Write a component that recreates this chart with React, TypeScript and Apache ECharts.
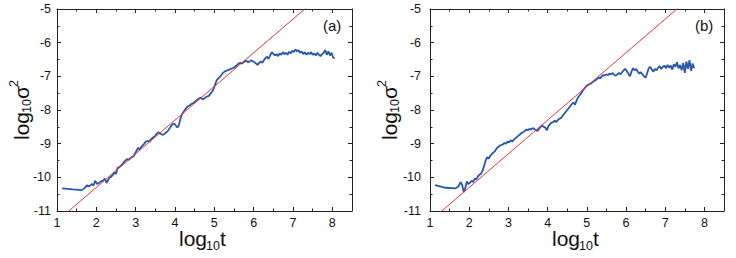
import React, { useEffect, useRef } from "react";
import * as echarts from "echarts";

// ---- data ----
const X_TICKS = [1, 2, 3, 4, 5, 6, 7, 8];
const Y_TICKS = [-11, -10, -9, -8, -7, -6, -5];

const A_X = [1.13,1.40,1.63,1.70,1.76,1.82,1.88,1.93,1.97,2.02,2.07,2.12,2.17,2.22,2.26,2.30,2.34,2.38,2.42,2.46,2.50,2.54,2.58,2.62,2.66,2.70,2.74,2.78,2.82,2.86,2.90,2.94,2.98,3.02,3.06,3.10,3.14,3.18,3.22,3.26,3.30,3.34,3.38,3.42,3.46,3.50,3.54,3.58,3.62,3.66,3.70,3.74,3.78,3.82,3.86,3.90,3.94,3.98,4.02,4.06,4.10,4.14,4.18,4.22,4.26,4.30,4.34,4.38,4.42,4.46,4.50,4.54,4.58,4.62,4.66,4.70,4.74,4.78,4.82,4.86,4.90,4.94,4.98,5.02,5.06,5.10,5.14,5.18,5.22,5.26,5.30,5.34,5.38,5.42,5.46,5.50,5.54,5.58,5.62,5.66,5.70,5.74,5.78,5.82,5.86,5.90,5.94,5.98,6.02,6.06,6.10,6.14,6.18,6.22,6.26,6.30,6.34,6.38,6.42,6.46,6.50,6.54,6.58,6.62,6.66,6.70,6.74,6.78,6.82,6.86,6.90,6.94,6.98,7.02,7.06,7.10,7.14,7.18,7.22,7.26,7.30,7.34,7.38,7.42,7.46,7.50,7.54,7.58,7.62,7.66,7.70,7.74,7.78,7.82,7.86,7.90,7.94,7.98,8.02,8.06];
const A_Y = [-10.33,-10.36,-10.38,-10.32,-10.24,-10.27,-10.20,-10.24,-10.10,-10.20,-10.16,-10.12,-10.10,-10.04,-10.17,-10.08,-10.00,-9.98,-9.93,-9.85,-9.90,-9.72,-9.70,-9.66,-9.62,-9.55,-9.50,-9.46,-9.48,-9.44,-9.40,-9.38,-9.30,-9.22,-9.12,-9.18,-9.10,-9.05,-9.00,-8.94,-8.92,-8.94,-8.88,-8.84,-8.80,-8.76,-8.70,-8.66,-8.70,-8.72,-8.74,-8.70,-8.66,-8.62,-8.55,-8.48,-8.42,-8.40,-8.46,-8.52,-8.45,-8.25,-8.12,-8.05,-7.98,-7.92,-7.88,-7.86,-7.82,-7.80,-7.76,-7.72,-7.68,-7.65,-7.64,-7.68,-7.66,-7.62,-7.60,-7.58,-7.52,-7.46,-7.38,-7.24,-7.12,-7.06,-7.02,-6.96,-6.90,-6.86,-6.84,-6.82,-6.80,-6.78,-6.76,-6.74,-6.70,-6.66,-6.62,-6.60,-6.62,-6.58,-6.55,-6.54,-6.58,-6.56,-6.52,-6.55,-6.58,-6.62,-6.66,-6.60,-6.56,-6.60,-6.52,-6.46,-6.42,-6.48,-6.38,-6.28,-6.33,-6.38,-6.34,-6.40,-6.32,-6.36,-6.28,-6.34,-6.30,-6.36,-6.27,-6.32,-6.24,-6.28,-6.20,-6.26,-6.22,-6.30,-6.26,-6.34,-6.28,-6.36,-6.30,-6.34,-6.28,-6.36,-6.32,-6.38,-6.30,-6.36,-6.40,-6.34,-6.30,-6.22,-6.36,-6.26,-6.38,-6.30,-6.44,-6.46];

const B_X = [1.13,1.40,1.64,1.72,1.78,1.82,1.86,1.90,1.94,1.98,2.02,2.06,2.10,2.14,2.18,2.22,2.26,2.30,2.34,2.38,2.42,2.46,2.50,2.54,2.58,2.62,2.66,2.70,2.74,2.78,2.82,2.86,2.90,2.94,2.98,3.02,3.06,3.10,3.14,3.18,3.22,3.26,3.30,3.34,3.38,3.42,3.46,3.50,3.54,3.58,3.62,3.66,3.70,3.74,3.78,3.82,3.86,3.90,3.94,3.98,4.02,4.06,4.10,4.14,4.18,4.22,4.26,4.30,4.34,4.38,4.42,4.46,4.50,4.54,4.58,4.62,4.66,4.70,4.74,4.78,4.82,4.86,4.90,4.94,4.98,5.02,5.06,5.10,5.14,5.18,5.22,5.26,5.30,5.34,5.38,5.42,5.46,5.50,5.54,5.58,5.62,5.66,5.70,5.74,5.78,5.82,5.86,5.90,5.94,5.98,6.02,6.06,6.10,6.14,6.18,6.22,6.26,6.30,6.34,6.38,6.42,6.46,6.50,6.54,6.58,6.62,6.66,6.70,6.74,6.78,6.82,6.86,6.90,6.94,6.98,7.02,7.06,7.10,7.14,7.18,7.22,7.26,7.30,7.34,7.38,7.42,7.46,7.50,7.54,7.58,7.62,7.66,7.70,7.74];
const B_Y = [-10.23,-10.31,-10.33,-10.28,-10.14,-10.22,-10.44,-10.32,-10.12,-10.20,-10.16,-10.10,-10.14,-10.04,-10.06,-9.98,-9.92,-9.90,-9.80,-9.66,-9.50,-9.40,-9.44,-9.36,-9.30,-9.26,-9.22,-9.14,-9.10,-9.06,-9.04,-9.02,-8.98,-9.00,-8.94,-8.96,-8.90,-8.94,-8.88,-8.84,-8.80,-8.76,-8.72,-8.68,-8.66,-8.62,-8.58,-8.60,-8.56,-8.58,-8.54,-8.56,-8.60,-8.62,-8.56,-8.50,-8.46,-8.50,-8.52,-8.60,-8.48,-8.42,-8.38,-8.36,-8.32,-8.36,-8.30,-8.26,-8.24,-8.18,-8.12,-8.06,-8.00,-7.94,-7.88,-7.82,-7.78,-7.84,-7.72,-7.62,-7.56,-7.50,-7.42,-7.36,-7.30,-7.26,-7.24,-7.22,-7.18,-7.14,-7.12,-7.08,-7.04,-7.06,-7.00,-6.96,-6.98,-6.94,-6.96,-6.92,-6.94,-6.90,-6.96,-6.98,-6.94,-6.90,-6.94,-6.88,-6.82,-6.78,-6.84,-6.92,-7.00,-6.86,-6.76,-6.82,-6.78,-6.86,-6.92,-6.88,-6.94,-7.00,-7.04,-6.90,-6.76,-6.72,-6.80,-6.86,-6.78,-6.82,-6.74,-6.70,-6.78,-6.72,-6.68,-6.76,-6.66,-6.74,-6.68,-6.80,-6.64,-6.72,-6.58,-6.76,-6.66,-6.82,-6.60,-6.90,-6.56,-6.78,-6.52,-6.84,-6.62,-6.76];

const FIT_X = [1.0, 7.5];
const FIT_Y = [-11.3, -4.8];

const PANEL_TAGS = ["(a)", "(b)"];

const FONT = "'Liberation Sans', Arial, Helvetica, sans-serif";
const AXIS_COLOR = "#222";
const BLUE = "#2a57a8";
const RED = "#e5343a";

const GRIDS = [
  { left: 57, top: 9, width: 295, height: 202 },
  { left: 430, top: 9, width: 294, height: 202 },
];

function zip(xs: number[], ys: number[]) {
  return xs.map((x, i) => [x, ys[i]]);
}

function xAxis(gridIndex: number, position: "bottom" | "top") {
  const showLabel = position === "bottom";
  return {
    type: "value",
    gridIndex,
    position,
    min: X_TICKS[0],
    max: 8.5,
    interval: 1,
    axisLine: { show: true, onZero: false, lineStyle: { color: AXIS_COLOR, width: 1 } },
    axisTick: { show: true, inside: true, length: 4, lineStyle: { color: AXIS_COLOR } },
    minorTick: { show: true, splitNumber: 2, length: 2.5, lineStyle: { color: AXIS_COLOR } },
    splitLine: { show: false },
    axisLabel: {
      show: showLabel,
      margin: 5,
      fontSize: 12.5,
      color: "#111",
      fontFamily: FONT,
      formatter: (v: number) => (X_TICKS.indexOf(v) >= 0 ? String(v) : ""),
    },
  };
}

function yAxis(gridIndex: number, position: "left" | "right", margin: number) {
  const showLabel = position === "left";
  return {
    type: "value",
    gridIndex,
    position,
    min: Y_TICKS[0],
    max: Y_TICKS[Y_TICKS.length - 1],
    interval: 1,
    axisLine: { show: true, onZero: false, lineStyle: { color: AXIS_COLOR, width: 1 } },
    axisTick: { show: true, inside: true, length: 4, lineStyle: { color: AXIS_COLOR } },
    minorTick: { show: true, splitNumber: 2, length: 2.5, lineStyle: { color: AXIS_COLOR } },
    splitLine: { show: false },
    axisLabel: {
      show: showLabel,
      margin,
      fontSize: 12.5,
      color: "#111",
      fontFamily: FONT,
    },
  };
}

function txt(x: number, y: number, text: string, size: number, extra: any = {}) {
  return {
    type: "text",
    x,
    y,
    style: {
      text,
      fontSize: size,
      fontFamily: FONT,
      fill: "#111",
      align: "left",
      verticalAlign: "middle",
      ...extra,
    },
  };
}

function xTitle(x0: number) {
  // log_10 t
  return {
    type: "group",
    x: x0,
    y: 238,
    children: [
      txt(0, 0, "log", 21),
      txt(27, 8, "10", 12.5),
      txt(41, 0, "t", 21),
    ],
  };
}

function yTitle(x0: number) {
  // log_10 sigma^2 rotated
  return {
    type: "group",
    x: x0,
    y: 140,
    rotation: Math.PI / 2,
    children: [
      txt(0, 0, "log", 21),
      txt(27, 6, "10", 12.5),
      txt(41, 0, "σ", 21),
      txt(53, -7, "2", 12.5),
    ],
  };
}

export default function App() {
  const ref = useRef<HTMLDivElement>(null);
  useEffect(() => {
    if (!ref.current) return;
    const chart = echarts.init(ref.current, undefined, { renderer: "svg" });
    const option: any = {
      animation: false,
      backgroundColor: "#fff",
      grid: GRIDS.map((g) => ({ ...g, containLabel: false })),
      xAxis: [xAxis(0, "bottom"), xAxis(0, "top"), xAxis(1, "bottom"), xAxis(1, "top")],
      yAxis: [yAxis(0, "left", 6), yAxis(0, "right", 6), yAxis(1, "left", 9), yAxis(1, "right", 6)],
      series: [
        {
          type: "line",
          xAxisIndex: 0,
          yAxisIndex: 0,
          data: zip(A_X, A_Y),
          showSymbol: false,
          lineStyle: { color: BLUE, width: 1.8 },
          z: 2,
        },
        {
          type: "line",
          xAxisIndex: 0,
          yAxisIndex: 0,
          data: zip(FIT_X, FIT_Y),
          showSymbol: false,
          clip: true,
          lineStyle: { color: RED, width: 1 },
          z: 3,
        },
        {
          type: "line",
          xAxisIndex: 2,
          yAxisIndex: 2,
          data: zip(B_X, B_Y),
          showSymbol: false,
          lineStyle: { color: BLUE, width: 1.8 },
          z: 2,
        },
        {
          type: "line",
          xAxisIndex: 2,
          yAxisIndex: 2,
          data: zip(FIT_X, FIT_Y),
          showSymbol: false,
          clip: true,
          lineStyle: { color: RED, width: 1 },
          z: 3,
        },
      ],
      graphic: [
        xTitle(179),
        xTitle(552),
        yTitle(21),
        yTitle(389),
        txt(323, 25, PANEL_TAGS[0], 15),
        txt(695, 25, PANEL_TAGS[1], 15),
      ],
    };
    chart.setOption(option);
    return () => chart.dispose();
  }, []);
  return (
    <div
      ref={ref}
      style={{ position: "fixed", left: 0, top: 0, width: 736, height: 258, background: "#fff" }}
    />
  );
}
